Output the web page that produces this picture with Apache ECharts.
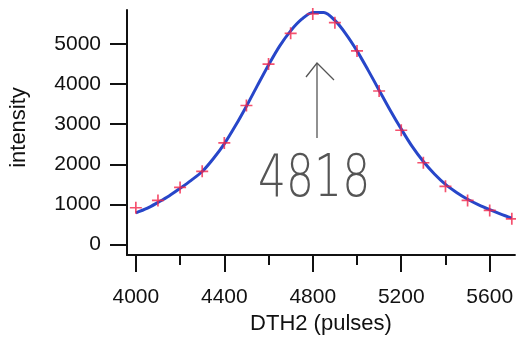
<!DOCTYPE html>
<html>
<head>
<meta charset="utf-8">
<script src="https://cdn.jsdelivr.net/npm/echarts@6/dist/echarts.min.js"></script>
<style>
  html, body { margin: 0; padding: 0; background: #fff; }
  #chart { width: 516px; height: 340px; }
</style>
</head>
<body>
<div id="chart"></div>
<script>
// measured points (red crosses)
const pulses = [4000, 4100, 4200, 4300, 4400, 4500, 4600, 4700, 4800,
                4900, 5000, 5100, 5200, 5300, 5400, 5500, 5600, 5700]
const counts = [917, 1100, 1425, 1825, 2533, 3467, 4500, 5267, 5750,
                5533, 4830, 3830, 2850, 2040, 1450, 1100, 850, 640]

// fitted curve
const fitX = [4000, 4050, 4100, 4150, 4200, 4250, 4300, 4350, 4400, 4450,
              4500, 4550, 4600, 4650, 4700, 4750, 4800, 4850, 4900, 4950,
              5000, 5050, 5100, 5150, 5200, 5250, 5300, 5350, 5400, 5450,
              5500, 5550, 5600, 5650, 5700]
const fitY = [790, 900, 1050, 1210, 1400, 1600, 1820, 2140, 2510, 2960,
              3450, 3970, 4480, 4950, 5330, 5620, 5790, 5790, 5590, 5250,
              4830, 4350, 3850, 3350, 2880, 2440, 2070, 1760, 1500, 1300,
              1130, 990, 870, 760, 660]

const xMajor = [4000, 4400, 4800, 5200, 5600]
const xMinor = [4200, 4600, 5000, 5400]
const yTicks = [0, 1000, 2000, 3000, 4000, 5000]

const font = 'Liberation Sans'
const plus = 'path://M0,8.6H20V11.4H0Z M8.6,0H11.4V20H8.6Z'

let chart = echarts.init(document.getElementById('chart'))

const xRange = { min: 3960, max: 5714 }
const plain = v => String(v)

chart.setOption({
    animation: false,
    backgroundColor: '#fff',
    grid: { left: 126, right: 0, top: 10, bottom: 85 },
    xAxis: [{
        type: 'value',
        ...xRange,
        name: 'DTH2 (pulses)',
        nameLocation: 'middle',
        nameGap: 57,
        nameTextStyle: { fontFamily: font, fontSize: 22, color: '#111' },
        axisLine: { show: true, onZero: false, lineStyle: { color: '#111', width: 2 } },
        axisTick: { show: true, inside: false, length: 17, customValues: xMajor,
            lineStyle: { color: '#111', width: 2 } },
        axisLabel: { customValues: xMajor, margin: 32, fontFamily: font,
            fontSize: 21, color: '#111', formatter: plain },
        splitLine: { show: false }
    }, {
        type: 'value',
        ...xRange,
        position: 'bottom',
        axisLine: { show: false, onZero: false },
        axisTick: { show: true, length: 10, customValues: xMinor,
            lineStyle: { color: '#111', width: 2 } },
        axisLabel: { show: false },
        splitLine: { show: false }
    }],
    yAxis: {
        type: 'value',
        min: -262,
        max: 5850,
        name: 'intensity',
        nameLocation: 'middle',
        nameGap: 97,
        nameTextStyle: { fontFamily: font, fontSize: 22, color: '#111',
            padding: [0, 0, 0, 10] },
        axisLine: { show: true, onZero: false, lineStyle: { color: '#111', width: 2 } },
        axisTick: { show: true, length: 17, customValues: yTicks,
            lineStyle: { color: '#111', width: 2 } },
        axisLabel: { customValues: yTicks, margin: 26, fontFamily: font,
            fontSize: 21, color: '#111', formatter: plain },
        splitLine: { show: false }
    },
    graphic: [
        {
            type: 'polyline',
            shape: { points: [[317, 138], [317, 63]] },
            style: { stroke: '#555', lineWidth: 1.3, fill: null }
        },
        {
            type: 'polyline',
            shape: { points: [[306, 77], [317, 63], [334, 80]] },
            style: { stroke: '#555', lineWidth: 1.3, fill: null }
        },
        {
            type: 'text',
            x: 258,
            y: 152,
            scaleX: 0.76,
            style: {
                text: '4818',
                fontFamily: 'DejaVu Sans',
                fontWeight: 200,
                fontSize: 58,
                fill: '#555'
            }
        }
    ],
    series: [{
        type: 'line',
        data: fitX.map((x, i) => [x, fitY[i]]),
        smooth: 0.3,
        showSymbol: false,
        lineStyle: { color: '#2746c9', width: 3 },
        z: 2
    }, {
        type: 'scatter',
        data: pulses.map((x, i) => [x, counts[i]]),
        symbol: plus,
        symbolSize: 12,
        itemStyle: { color: '#f2264a' },
        z: 3
    }]
})
</script>
</body>
</html>
